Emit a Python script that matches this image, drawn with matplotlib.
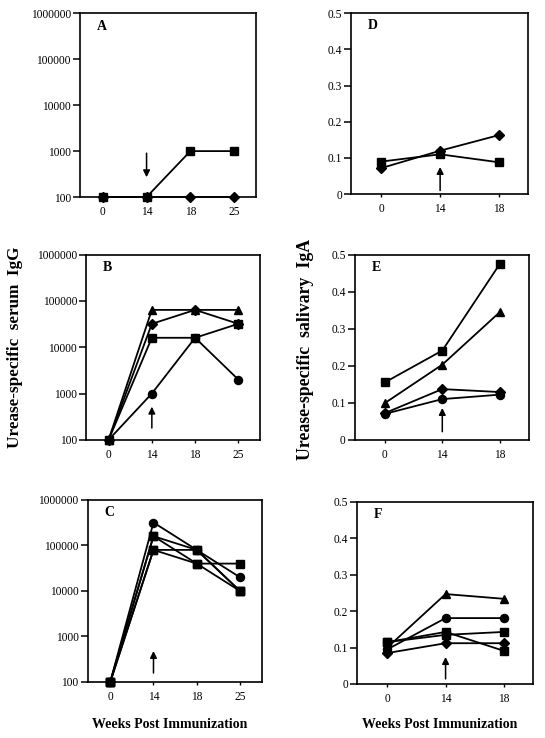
import numpy as np
import matplotlib
matplotlib.use('Agg')
import matplotlib.pyplot as plt
from matplotlib.ticker import FixedLocator, NullLocator

plt.rcParams['font.family'] = ['Liberation Serif', 'DejaVu Serif']

# x categories (weeks post immunization)
weeks4 = ['0', '14', '18', '25']
weeks3 = ['0', '14', '18']

# Panel A - serum IgG
a_square = [100, 100, 1000, 1000]
a_diamond = [100, 100, 100, 100]

# Panel B - serum IgG
b_triangle = [100, 64000, 64000, 64000]
b_diamond = [100, 32000, 64000, 32000]
b_square = [100, 16000, 16000, 32000]
b_circle = [100, 1000, 16000, 2000]

# Panel C - serum IgG
c_circle = [100, 320000, 80000, 20000]
c_square1 = [100, 160000, 80000, 10000]
c_square2 = [100, 160000, 40000, 40000]
c_square3 = [100, 80000, 80000, 10000]
c_square4 = [100, 80000, 40000, 10000]

# Panel D - salivary IgA
d_square = [0.09, 0.11, 0.088]
d_diamond = [0.072, 0.12, 0.163]

# Panel E - salivary IgA
e_square = [0.155, 0.241, 0.475]
e_triangle = [0.099, 0.203, 0.345]
e_diamond = [0.072, 0.137, 0.129]
e_circle = [0.070, 0.110, 0.122]

# Panel F - salivary IgA
f_triangle = [0.10, 0.247, 0.234]
f_circle = [0.095, 0.181, 0.181]
f_square1 = [0.115, 0.135, 0.143]
f_square2 = [0.115, 0.143, 0.091]
f_diamond = [0.085, 0.112, 0.112]

# arrows: (x index, tail y, head y)
arrow_a = (1, 900, 270)
arrow_b = (1, 180, 520)
arrow_c = (1, 157, 480)
arrow_d = (1, 0.01, 0.075)
arrow_e = (1, 0.022, 0.086)
arrow_f = (1, 0.014, 0.074)

log_ticks = [100, 1000, 10000, 100000, 1000000]
lin_ticks = [0, 0.1, 0.2, 0.3, 0.4, 0.5]

fig = plt.figure(figsize=(5.45, 7.38), dpi=100)

mk = {'s': 5.8, 'D': 4.6, 'o': 5.8, '^': 6.0}


def draw(ax, series, weeks, log, letter, arrow):
    x = np.arange(len(weeks))
    for y, m in series:
        ax.plot(x, y, color='black', lw=1.3, marker=m, ms=mk[m],
                mfc='black', mec='black', clip_on=False, zorder=3)
    ax.set_xlim(-0.52, len(weeks) - 0.5)
    ax.xaxis.set_major_locator(FixedLocator(x))
    ax.set_xticklabels(weeks)
    if log:
        ax.set_yscale('log')
        ax.set_ylim(100, 1000000)
        ax.yaxis.set_major_locator(FixedLocator(log_ticks))
        ax.set_yticklabels([str(t) for t in log_ticks])
        ax.yaxis.set_minor_locator(NullLocator())
    else:
        ax.set_ylim(0, 0.5)
        ax.yaxis.set_major_locator(FixedLocator(lin_ticks))
        ax.set_yticklabels(['0', '0.1', '0.2', '0.3', '0.4', '0.5'])
    for s in ax.spines.values():
        s.set_linewidth(1.2)
    ax.tick_params(axis='y', direction='out', length=5, width=1.1,
                   labelsize=8.3, pad=1.5)
    ax.tick_params(axis='x', direction='out', length=2.5, width=1.0,
                   labelsize=8.3, pad=4)
    ax.text(0.095, 0.93, letter, transform=ax.transAxes, fontsize=10,
            fontweight='bold', va='center', ha='left')
    xi, y0, y1 = arrow
    ax.annotate('', xy=(xi, y1), xytext=(xi, y0),
                arrowprops=dict(arrowstyle='-|>', color='black', lw=1.1,
                                mutation_scale=10, shrinkA=0, shrinkB=0))


axA = fig.add_axes([0.1468, 0.733, 0.323, 0.249])
draw(axA, [(a_diamond, 'D'), (a_square, 's')], weeks4, True, 'A', arrow_a)

axB = fig.add_axes([0.158, 0.404, 0.319, 0.251])
draw(axB, [(b_triangle, '^'), (b_diamond, 'D'), (b_circle, 'o'), (b_square, 's')],
     weeks4, True, 'B', arrow_b)

axC = fig.add_axes([0.161, 0.0759, 0.319, 0.2466])
draw(axC, [(c_square1, 's'), (c_square2, 's'), (c_square3, 's'), (c_square4, 's'),
           (c_circle, 'o')], weeks4, True, 'C', arrow_c)

axD = fig.add_axes([0.644, 0.737, 0.325, 0.245])
draw(axD, [(d_square, 's'), (d_diamond, 'D')], weeks3, False, 'D', arrow_d)

axE = fig.add_axes([0.651, 0.404, 0.319, 0.251])
draw(axE, [(e_square, 's'), (e_triangle, '^'), (e_diamond, 'D'), (e_circle, 'o')],
     weeks3, False, 'E', arrow_e)

axF = fig.add_axes([0.655, 0.0732, 0.323, 0.2466])
draw(axF, [(f_triangle, '^'), (f_circle, 'o'), (f_square1, 's'), (f_square2, 's'),
           (f_diamond, 'D')], weeks3, False, 'F', arrow_f)

fig.text(0.0275, 0.530, 'Urease-specific  serum  IgG', rotation=90,
         fontsize=12.3, fontweight='bold', ha='center', va='center')
fig.text(0.560, 0.526, 'Urease-specific  salivary  IgA', rotation=90,
         fontsize=12.8, fontweight='bold', ha='center', va='center')
fig.text(170 / 545, 1 - 724 / 738, 'Weeks Post Immunization', fontsize=10,
         fontweight='bold', ha='center', va='center')
fig.text(440 / 545, 1 - 724 / 738, 'Weeks Post Immunization', fontsize=10,
         fontweight='bold', ha='center', va='center')

fig.savefig('out.png', dpi=100)
